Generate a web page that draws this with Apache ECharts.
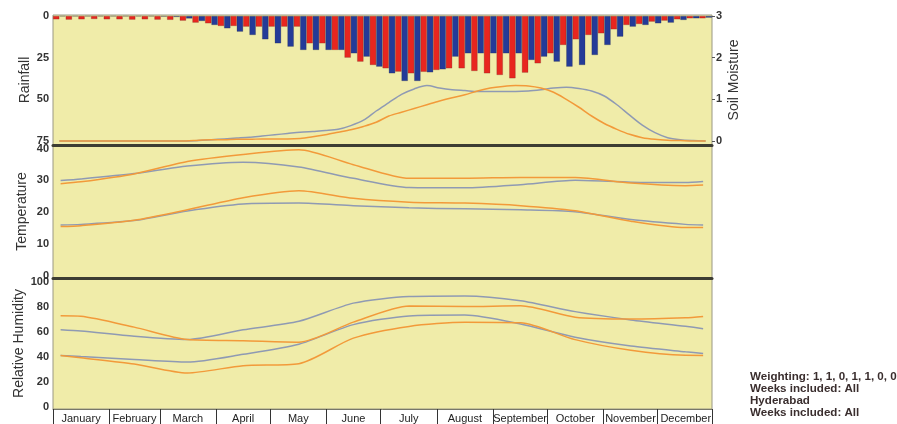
<!DOCTYPE html>
<html><head><meta charset="utf-8">
<script src="https://cdn.jsdelivr.net/npm/echarts@6/dist/echarts.min.js"></script>
<style>html,body{margin:0;padding:0;background:#fff}#c{width:897px;height:424px}</style>
</head><body><div id="c"></div>
<script>
// ---------- data ----------
const monthNames = ['January','February','March','April','May','June','July','August','September','October','November','December'];
const monthDays = [31,28,31,30,31,30,31,31,30,31,30,31];
const weekNumbers = Array.from({length: 52}, (_, i) => i + 1);

const rainRed = [2.0,2.2,2.0,1.8,2.0,2.0,2.2,2.0,2.2,2.3,
  2.8,4.0,4.4,6.0,6.0,6.4,6.4,6.4,6.4,6.4,
  16.4,16.4,20.4,25.0,27.4,29.4,31.4,33.4,34.4,33.5,
  32.4,31.4,31.4,33.0,34.4,35.4,37.4,34.0,28.4,22.4,
  17.4,14.0,11.4,10.4,8.0,5.4,4.8,3.4,2.8,2.0,
  1.4,1.4];
const rainBlue = [0.3,0.3,0.3,0.3,0.3,0.3,0.3,0.3,0.4,0.6,
  1.5,3.0,5.4,7.4,9.4,11.4,14.0,16.4,18.4,20.4,
  20.4,20.4,20.4,22.4,24.4,30.4,34.4,39.0,39.0,33.8,
  32.0,24.4,22.4,22.4,22.4,22.4,22.4,26.4,24.4,27.4,
  30.4,29.4,23.4,17.4,12.4,6.4,5.4,4.4,4.0,2.4,
  1.4,1.0];
const soilGrey = [0,0,0,0,0,0,0,0,0,0,0,
  0.01,0.03,0.05,0.07,0.09,0.12,0.15,0.18,0.21,0.23,
  0.25,0.28,0.37,0.5,0.72,0.92,1.12,1.25,1.33,1.27,
  1.23,1.21,1.19,1.19,1.19,1.19,1.2,1.23,1.27,1.29,
  1.26,1.2,1.08,0.87,0.62,0.38,0.2,0.08,0.03,0.01,0.0];
const soilOrange = [0,0,0,0,0,0,0,0,0,0,0,
  0.02,0.03,0.03,0.04,0.04,0.05,0.05,0.05,0.06,0.1,
  0.15,0.21,0.27,0.35,0.45,0.6,0.69,0.78,0.87,0.96,
  1.04,1.11,1.2,1.27,1.31,1.33,1.32,1.27,1.17,1.0,
  0.81,0.6,0.42,0.28,0.16,0.08,0.04,0.02,0.01,0.0,0.0];

// knot weeks: start, 12 month centres, end
const knotWeeks = [0.6, 2.2, 6.4, 10.6, 15.0, 19.4, 23.7, 28.1, 32.5, 36.9, 41.2, 45.6, 49.9, 51.3];
const tempMaxGrey   = [29.9, 30.4, 32.1, 34.5, 35.7, 34.2, 30.6, 27.7, 27.6, 28.6, 30.0, 29.4, 29.3, 29.6];
const tempMaxOrange = [28.9, 29.5, 32.0, 35.9, 38.1, 39.6, 34.9, 30.6, 30.6, 30.9, 30.9, 29.1, 28.3, 28.5];
const tempMinGrey   = [15.9, 16.1, 17.3, 20.3, 22.5, 22.8, 22.0, 21.3, 21.0, 20.7, 20.1, 17.6, 16.1, 15.9];
const tempMinOrange = [15.4, 15.7, 17.4, 20.7, 24.5, 26.7, 24.3, 23.1, 22.8, 22.0, 20.4, 17.1, 15.1, 15.1];
const rhMaxGrey     = [61.5, 60.5, 56.2, 53.6, 61.4, 68.2, 82.7, 88.0, 88.5, 84.6, 75.9, 69.3, 64.2, 62.3];
const rhMaxOrange   = [72.6, 72.2, 63.5, 53.6, 52.7, 51.5, 67.5, 80.5, 80.0, 80.6, 71.4, 70.0, 71.0, 72.1];
const rhMinGrey     = [40.9, 40.0, 37.7, 35.6, 41.8, 49.8, 65.5, 72.5, 73.2, 66.0, 55.4, 48.4, 43.8, 42.5];
const rhMinOrange   = [40.9, 39.0, 34.0, 26.8, 32.7, 34.3, 54.7, 64.1, 67.4, 67.0, 53.5, 45.0, 41.0, 40.9];

const rainTicks = [0, 25, 50, 75];
const soilTicks = [0, 1, 2, 3];
const tempTicks = [0, 10, 20, 30, 40];
const rhTicks = [0, 20, 40, 60, 80, 100];
const infoLines = ['Weighting: 1, 1, 0, 1, 1, 0, 0', 'Weeks included: All', 'Hyderabad', 'Weeks included: All'];

// ---------- derived ----------
const weekX = weekNumbers.map(w => w - 0.5);
const cum = [0];
monthDays.forEach(d => cum.push(cum[cum.length - 1] + d));
const monthBounds = cum.map(c => Math.min(52, c / 7));
const monthCenters = monthDays.map((d, i) => (cum[i] + d / 2) / 7);

const GREY = '#8f9ab3', ORANGE = '#f29a3a';
const FONT = 'Liberation Sans, Arial, sans-serif';
const pairs = (xs, ys) => xs.map((x, i) => [x, ys[i]]);
const lineS = (xi, yi, xs, ys, color, smooth) => ({
  type: 'line', xAxisIndex: xi, yAxisIndex: yi, data: pairs(xs, ys),
  showSymbol: false, smooth: smooth, lineStyle: {color: color, width: 1.5}, itemStyle: {color: color}, z: 3
});

const gridBase = {left: 53, right: 185, show: true, backgroundColor: '#f0eca9', borderColor: '#9a9884', borderWidth: 1};
const yLabel = {fontSize: 11, fontWeight: 'bold', color: '#333', margin: 4, fontFamily: FONT};
const nameStyle = {fontSize: 14, color: '#333', fontFamily: FONT};
const yBase = (gi, name, gap, min, max, ticks, extra) => Object.assign({
  type: 'value', gridIndex: gi, min: min, max: max, name: name, nameLocation: 'middle', nameGap: gap,
  nameMoveOverlap: false, nameTextStyle: nameStyle,
  axisLine: {show: false}, axisTick: {show: false}, splitLine: {show: false},
  axisLabel: Object.assign({customValues: ticks}, yLabel)
}, extra || {});

const xBase = (gi, lineColor, lineWidth) => ({
  type: 'value', gridIndex: gi, min: 0, max: 52,
  axisLine: {show: true, onZero: false, lineStyle: {color: lineColor, width: lineWidth}},
  axisTick: {show: false}, axisLabel: {show: false}, splitLine: {show: false}
});

const xBottom = xBase(2, '#77776a', 1);
xBottom.axisTick = {show: true, customValues: monthBounds, length: 15, lineStyle: {color: '#333', width: 1}};
xBottom.axisLabel = {
  show: true, customValues: monthCenters, margin: 4, fontSize: 11, color: '#222', fontFamily: FONT,
  formatter: function (v) {
    let best = 0;
    monthCenters.forEach((c, i) => { if (Math.abs(c - v) < Math.abs(monthCenters[best] - v)) best = i; });
    return monthNames[best];
  }
};

const option = {
  animation: false,
  backgroundColor: '#ffffff',
  title: {
    text: infoLines.join('\n'), left: 750, top: 371,
    textStyle: {fontSize: 11.6, fontWeight: 'bold', lineHeight: 11.8, color: '#3a2e2e', fontFamily: FONT},
    padding: 0
  },
  grid: [
    Object.assign({top: 15, height: 130}, gridBase),
    Object.assign({top: 145, height: 133}, gridBase),
    Object.assign({top: 278, height: 132}, gridBase)
  ],
  xAxis: [xBase(0, '#3d3d33', 3), xBase(1, '#3d3d33', 3), xBottom],
  yAxis: [
    yBase(0, 'Rainfall', 21, -0.6, 77.4, rainTicks, {inverse: true}),
    yBase(0, 'Soil Moisture', 15, -0.096, 3.024, soilTicks, {position: 'right',
      axisTick: {show: true, customValues: soilTicks, length: 3, lineStyle: {color: '#555'}}}),
    yBase(1, 'Temperature', 24, -0.79, 41.1, tempTicks),
    yBase(2, 'Relative Humidity', 27, -1.98, 102.8, rhTicks)
  ],
  series: [
    {type: 'bar', xAxisIndex: 0, yAxisIndex: 0, data: pairs(weekX, rainRed), barGap: '0%', barCategoryGap: '0%',
      itemStyle: {color: '#e8261f', borderColor: 'rgba(90,30,30,0.45)', borderWidth: 0.5}},
    {type: 'bar', xAxisIndex: 0, yAxisIndex: 0, data: pairs(weekX, rainBlue), barGap: '0%', barCategoryGap: '0%',
      itemStyle: {color: '#243b98', borderColor: 'rgba(30,30,60,0.45)', borderWidth: 0.5}},
    lineS(0, 1, weekX, soilGrey, GREY, 0.3),
    lineS(0, 1, weekX, soilOrange, ORANGE, 0.3),
    lineS(1, 2, knotWeeks, tempMaxGrey, GREY, 0.25),
    lineS(1, 2, knotWeeks, tempMinGrey, GREY, 0.25),
    lineS(1, 2, knotWeeks, tempMaxOrange, ORANGE, 0.25),
    lineS(1, 2, knotWeeks, tempMinOrange, ORANGE, 0.25),
    lineS(2, 3, knotWeeks, rhMaxGrey, GREY, 0.25),
    lineS(2, 3, knotWeeks, rhMinGrey, GREY, 0.25),
    lineS(2, 3, knotWeeks, rhMaxOrange, ORANGE, 0.25),
    lineS(2, 3, knotWeeks, rhMinOrange, ORANGE, 0.25)
  ]
};
const chart = echarts.init(document.getElementById('c'), null, {renderer: 'canvas'});
chart.setOption(option);
</script>
</body></html>
